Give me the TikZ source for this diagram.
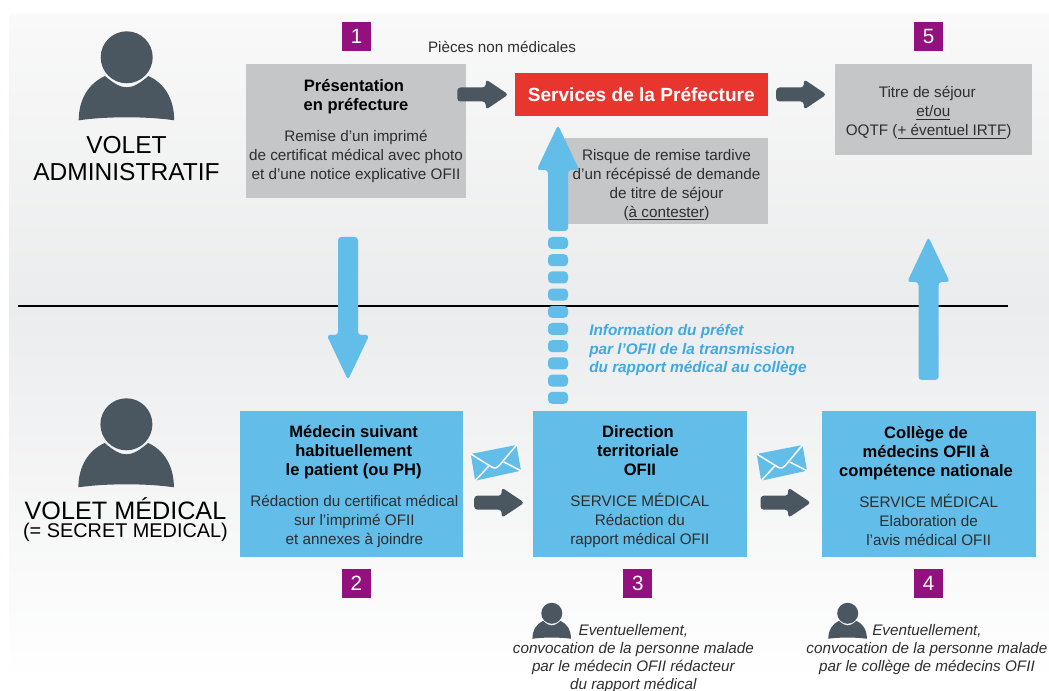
\documentclass[tikz,border=0pt]{standalone}
\usepackage{fontspec}
\setmainfont{Liberation Sans}
\usetikzlibrary{calc}
\definecolor{slate}{HTML}{4B5760}
\definecolor{skyb}{HTML}{62BDE8}
\definecolor{skytxt}{HTML}{3FA9E0}
\definecolor{greyb}{HTML}{C5C6C8}
\definecolor{redb}{HTML}{E8352E}
\definecolor{purp}{HTML}{93117E}
\definecolor{bgmid}{HTML}{EBECED}
\definecolor{bgtop}{HTML}{F9F9F9}
\definecolor{ink}{HTML}{2E2E2E}
\newcommand\ptt[2]{\fontsize{#1}{#2}\selectfont}
\newcommand\hd[1]{{\bfseries\color{black}\ptt{12.4}{14.25}#1}}
\newcommand\dn[1]{\rule{0pt}{#1}}
\newcommand\lft[1]{\hspace*{#1}}
\tikzset{
  x=0.75pt,y=-0.75pt,
  boxbase/.style={inner sep=0pt,align=center,font=\ptt{11.45}{14.25},text=ink},
  greybox/.style={boxbase,fill=greyb},
  bluebox/.style={boxbase,fill=skyb,minimum width=160.5pt,minimum height=109.5pt},
  num/.style={fill=purp,text=white,inner sep=0pt,minimum width=22pt,minimum height=22pt,font=\ptt{15.5}{18}},
  voletlab/.style={align=center,inner sep=0pt,text=black},
  conv/.style={align=center,inner sep=0pt,font=\itshape\ptt{11.45}{13.5},text=ink},
  blockshape/.style n args={3}{rounded corners=2.4pt,to path={
    ($(\tikztostart)!#1!90:(\tikztotarget)$)
    -- ($(\tikztotarget)!#3!(\tikztostart)!#1!90:(\tikztotarget)$)
    -- ($(\tikztotarget)!#3!(\tikztostart)!#2!90:(\tikztotarget)$)
    -- (\tikztotarget)
    -- ($(\tikztotarget)!#3!(\tikztostart)!#2!-90:(\tikztotarget)$)
    -- ($(\tikztotarget)!#3!(\tikztostart)!#1!-90:(\tikztotarget)$)
    -- ($(\tikztostart)!#1!-90:(\tikztotarget)$) -- cycle}},
  greyarrow/.style={fill=slate,blockshape={5.25pt}{11.4pt}{17pt}},
  bluearrow/.style={fill=skyb,blockshape={7.5pt}{16pt}{33.75pt}},
  person/.pic={
    \fill[slate] (0,0) circle[radius=26];
    \fill[slate] (-21.7,18.7) .. controls (-38,26) and (-48,42) .. (-48,63)
      .. controls (-20,59) and (20,59) .. (47.5,63)
      .. controls (47.5,42) and (38,26) .. (21.7,18.7)
      .. controls (12,27) and (6,30) .. (0,30)
      .. controls (-6,30) and (-12,27) .. (-21.7,18.7) -- cycle;
  },
  mail/.pic={
    \fill[skyb] (0,9) -- (45.8,0) -- (50.3,25.7) -- (4.5,35.7) -- cycle;
    \draw[white,line width=1.1pt,line join=round] (0,9) -- (21,22) .. controls (24,24) and (26,23) .. (29,20) -- (45.8,0);
    \draw[white,line width=1.1pt] (4.5,35.7) -- (19,20);
    \draw[white,line width=1.1pt] (50.3,25.7) -- (33,17);
  }
}
\begin{document}
\begin{tikzpicture}
\useasboundingbox (0,0) rectangle (1049,691);
\fill[white] (0,0) rectangle (1049,691);
% background
\shade[top color=bgtop,bottom color=bgmid] (9,15) rectangle (1049,306);
\shade[top color=bgmid,bottom color=white] (9,306) rectangle (1049,680);
% divider
\coordinate (ruleL) at (18,306);
\coordinate (ruleR) at (1007.5,306);
\draw[black,line width=1.1pt] (ruleL) -- (ruleR);
% icons and side labels
\pic at (126.7,57.3) {person};
\pic at (126.4,424.3) {person};
\pic[scale=0.404] at (551.8,613.3) {person};
\pic[scale=0.404] at (847.7,613.3) {person};
\node[voletlab,font=\ptt{18.4}{20.3}] (voletA) at (126.5,159) {VOLET\\ADMINISTRATIF};
\node[voletlab,font=\ptt{18.9}{13.5}] (voletM) at (125.5,520) {VOLET MÉDICAL\\{\ptt{14.9}{13.5}(= SECRET MEDICAL)}};
% boxes
\node[greybox,minimum width=165pt,minimum height=100.5pt] (box1) at (356,131)
  {\hd{Présentation\lft{3pt}}\\\hd{en préfecture}\\[9pt]Remise d’un imprimé\\de certificat médical avec photo\\et d’une notice explicative OFII};
\node[fill=redb,text=white,inner sep=0pt,minimum width=189.9pt,minimum height=32.25pt,font=\bfseries\ptt{14.3}{17}] (serv) at (641.3,94.5) {Services de la Préfecture};
\node[greybox,minimum width=152.25pt,minimum height=64.5pt] (risk) at (666.5,181)
  {\dn{14.3pt}Risque de remise tardive\\d’un récépissé de demande\\de titre de séjour\\(\underline{à contester})};
\node[greybox,minimum width=147.75pt,minimum height=68.25pt] (titre) at (933.3,109.5)
  {\dn{13.5pt}Titre de séjour\lft{9pt}\\\underline{et/ou}\lft{6pt}\\OQTF (\underline{+ éventuel IRTF})\lft{7pt}};
\node[bluebox,minimum width=167pt] (box2) at (351.7,483.5)
  {\dn{13.5pt}\hd{\lft{3pt}Médecin suivant}\\\hd{\lft{3pt}habituellement}\\\hd{\lft{3pt}le patient (ou PH)}\\[9pt]\lft{4pt}Rédaction du certificat médical\\\lft{4pt}sur l’imprimé OFII\\\lft{4pt}et annexes à joindre};
\node[bluebox] (box3) at (639.9,483.5)
  {\dn{13.5pt}\hd{Direction\lft{3pt}}\\\hd{territoriale\lft{3pt}}\\\hd{OFII}\\[9pt]SERVICE MÉDICAL\\Rédaction du\\rapport médical OFII};
\node[bluebox] (box4) at (928.7,483.5)
  {\dn{13.5pt}\hd{Collège de\lft{4pt}}\\\hd{médecins OFII à\lft{4pt}}\\\hd{compétence nationale\lft{4pt}}\\[9pt]SERVICE MÉDICAL\\Elaboration de\\l’avis médical OFII};
% step numbers
\node[num] (n1) at (356.5,36.5) {1};
\node[num] (n5) at (928.6,36.5) {5};
\node[num] (n2) at (356.4,583.3) {2};
\node[num] (n3) at (637.8,583.3) {3};
\node[num] (n4) at (928.6,583.3) {4};
% free labels
\node[inner sep=0pt,text=ink,font=\ptt{11.4}{14}] (pieces) at (502,46.5) {Pièces non médicales};
\node[inner sep=0pt,anchor=north west,align=left,text=skytxt,font=\bfseries\itshape\ptt{11.5}{13.9}] (info) at (589,324) {Information du préfet\\par l’OFII de la transmission\\du rapport médical au collège};
\node[conv,anchor=north] (c3) at (633.4,624) {Eventuellement,\\convocation de la personne malade\\par le médecin OFII rédacteur\\du rapport médical};
\node[conv,anchor=north] (c4) at (927,624) {Eventuellement,\\convocation de la personne malade\\par le collège de médecins OFII};
% mail icons
\pic at (470.7,445) {mail};
\pic at (756.7,445) {mail};
% grey arrows
\coordinate (g1a) at ($(box1.east |- serv.west)+(-9,0)$);
\coordinate (g1b) at ($(serv.west)+(-6,0)$);
\coordinate (g2a) at ($(serv.east)+(8,0)$);
\coordinate (g2b) at ($(titre.west |- serv.east)+(-8,0)$);
\coordinate (g3a) at (474.2,502.7);
\coordinate (g3b) at (524.4,502.7);
\coordinate (g4a) at (760.5,502.7);
\coordinate (g4b) at (810.9,502.7);
\path[greyarrow] (g1a) to (g1b);
\path[greyarrow] (g2a) to (g2b);
\path[greyarrow] (g3a) to (g3b);
\path[greyarrow] (g4a) to (g4b);
% blue arrows
\coordinate (d1a) at (348,237);
\coordinate (d1b) at (348,380);
\path[bluearrow] (d1a) to (d1b);
\coordinate (u1a) at (558,231);
\coordinate (u1b) at (558,125);
\path[bluearrow] (u1a) to (u1b);
\coordinate (u2a) at (928.5,380);
\coordinate (u2b) at (928.5,237);
\path[bluearrow] (u2a) to (u2b);
\foreach \k in {0,...,9}{
  \fill[skyb,rounded corners=3pt] (548,237+17.2*\k) rectangle (568,249+17.2*\k);
}
\end{tikzpicture}
\end{document}
